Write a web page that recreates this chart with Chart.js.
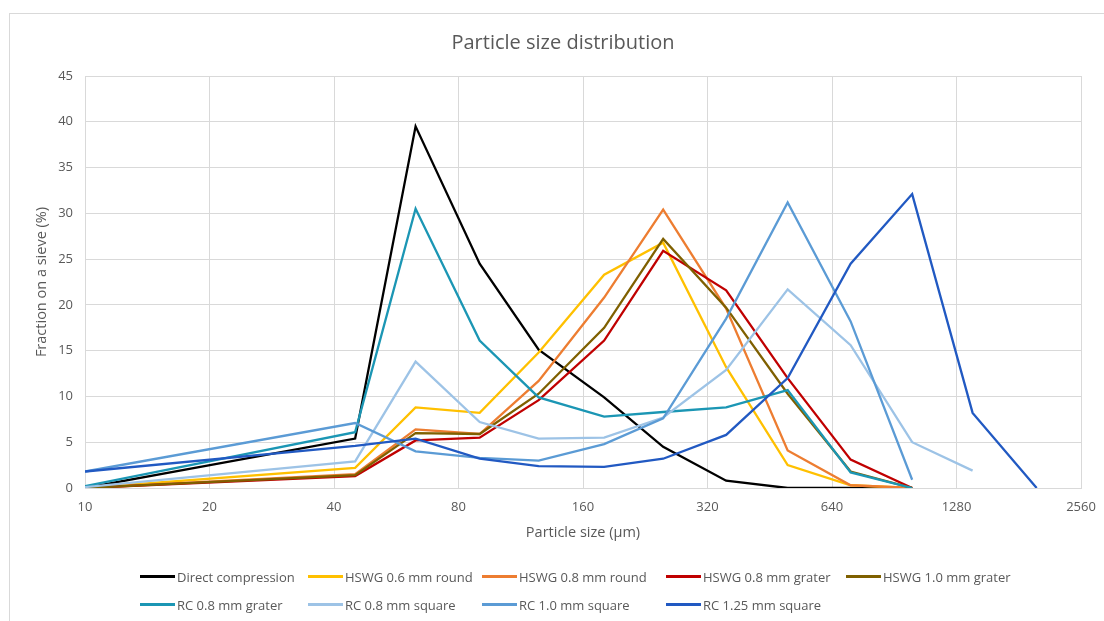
<!DOCTYPE html>
<html>
<head>
<meta charset="utf-8">
<script src="https://cdn.jsdelivr.net/npm/chart.js@4.4.1/dist/chart.umd.min.js"></script>
<style>
  html, body { margin: 0; padding: 0; background: #fff; overflow: hidden; }
  #wrap { position: relative; width: 1104px; height: 621px; }
  #frame { position: absolute; left: 9px; top: 13px; width: 1200px; height: 700px;
           border: 1px solid #d9d9d9; box-sizing: border-box; pointer-events: none; }
  #legend { position: absolute; left: 140px; top: 567px;
            display: grid; grid-template-columns: 168px 174px 184px 180px auto;
            row-gap: 9px; font-family: "Open Sans", sans-serif; font-size: 13px; color: #595959; }
  .item { display: flex; align-items: center; height: 19px; white-space: nowrap; }
  .swatch { width: 35px; height: 2.4px; margin-right: 2px; }
  .row2 { grid-column: 1; }
</style>
</head>
<body>
<div id="wrap">
  <canvas id="chart"></canvas>
  <div id="frame"></div>
  <div id="legend"></div>
</div>
<script>
// Sieve opening sizes (µm) and fraction retained on each sieve (%)
const sieveSizes = [10, 45, 63, 90, 125, 180, 250, 355, 500, 710, 1000, 1400, 2000];
const xTickValues = [10, 20, 40, 80, 160, 320, 640, 1280, 2560];

const directCompression = [0, 5.4, 39.5, 24.5, 15.1, 9.9, 4.5, 0.8, 0, 0, 0, null, null];
const hswg06Round      = [0, 2.2, 8.8, 8.2, 14.8, 23.3, 26.8, 13.2, 2.5, 0.3, 0, null, null];
const hswg08Round      = [0, 1.5, 6.4, 5.9, 11.7, 20.8, 30.4, 19.6, 4.1, 0.3, 0, null, null];
const hswg08Grater     = [0, 1.3, 5.2, 5.5, 9.6, 16.1, 25.9, 21.6, 12.0, 3.1, 0, null, null];
const hswg10Grater     = [0, 1.4, 6.0, 5.9, 10.3, 17.5, 27.2, 19.7, 10.3, 1.8, 0, null, null];
const rc08Grater       = [0.2, 6.1, 30.5, 16.1, 9.9, 7.8, 8.3, 8.8, 10.7, 1.7, 0, null, null];
const rc08Square       = [0.1, 2.9, 13.8, 7.2, 5.4, 5.5, 7.7, 12.9, 21.7, 15.6, 5.0, 1.9, null];
const rc10Square       = [1.8, 7.1, 4.0, 3.3, 3.0, 4.8, 7.6, 18.5, 31.2, 18.2, 0.9, null, null];
const rc125Square      = [1.8, 4.6, 5.4, 3.2, 2.4, 2.3, 3.2, 5.8, 12.0, 24.5, 32.1, 8.2, 0];

const seriesNames = [
  'Direct compression', 'HSWG 0.6 mm round', 'HSWG 0.8 mm round', 'HSWG 0.8 mm grater',
  'HSWG 1.0 mm grater', 'RC 0.8 mm grater', 'RC 0.8 mm square', 'RC 1.0 mm square', 'RC 1.25 mm square'
];
const seriesValues = [
  directCompression, hswg06Round, hswg08Round, hswg08Grater,
  hswg10Grater, rc08Grater, rc08Square, rc10Square, rc125Square
];
const seriesColors = [
  '#000000', '#FFC000', '#ED7D31', '#C00000',
  '#7F6000', '#1B96B4', '#9DC3E6', '#5B9BD5', '#2159C2'
];

const FONT = '"Open Sans", sans-serif';
const GREY = '#595959';
const GRID = '#d9d9d9';

const datasets = seriesNames.map((name, i) => ({
  label: name,
  data: sieveSizes.map((s, k) => ({ x: s, y: seriesValues[i][k] })).filter(p => p.y !== null),
  borderColor: seriesColors[i],
  backgroundColor: seriesColors[i],
  borderWidth: 2.3,
  pointRadius: 0,
  tension: 0,
  order: seriesNames.length - i
}));

const chart = new Chart(document.getElementById('chart'), {
  type: 'line',
  data: { datasets },
  options: {
    responsive: true,
    maintainAspectRatio: false,
    animation: false,
    layout: { padding: { left: 45, right: 23, top: 0, bottom: 74 } },
    plugins: {
      legend: { display: false },
      tooltip: { enabled: false },
      title: {
        display: true,
        text: 'Particle size distribution',
        color: GREY,
        font: { family: FONT, size: 20, weight: 'normal' },
        padding: { top: 31, bottom: 21 }
      }
    },
    scales: {
      x: {
        type: 'logarithmic',
        min: 10,
        max: 2560,
        afterBuildTicks: (scale) => { scale.ticks = xTickValues.map(v => ({ value: v })); },
        afterFit: (scale) => {
          scale.height = 59;
          scale.paddingLeft = 0;
          scale.paddingRight = 0;
        },
        ticks: {
          autoSkip: false, maxRotation: 0, padding: 11,
          color: GREY, font: { family: FONT, size: 13 },
          callback: (v) => String(v)
        },
        grid: { color: GRID, drawTicks: false },
        border: { color: GRID },
        title: {
          display: true, text: 'Particle size (µm)', color: GREY,
          font: { family: FONT, size: 14.5 }, padding: { top: 4, bottom: 5 }
        }
      },
      y: {
        min: 0,
        max: 45,
        afterFit: (scale) => { scale.width = 40; },
        ticks: {
          stepSize: 5, padding: 12,
          color: GREY, font: { family: FONT, size: 13 }
        },
        grid: { color: GRID, drawTicks: false },
        border: { display: false },
        title: {
          display: true, text: 'Fraction on a sieve (%)', color: GREY,
          font: { family: FONT, size: 14.5 }, padding: { top: -12, bottom: 4 }
        }
      }
    }
  }
});

// Legend built from the chart's datasets, five entries on the first row
const legendEl = document.getElementById('legend');
chart.data.datasets.forEach((ds, i) => {
  const item = document.createElement('div');
  item.className = 'item' + (i === 5 ? ' row2' : '');
  const sw = document.createElement('span');
  sw.className = 'swatch';
  sw.style.background = ds.borderColor;
  const txt = document.createElement('span');
  txt.textContent = ds.label;
  item.appendChild(sw);
  item.appendChild(txt);
  legendEl.appendChild(item);
});
</script>
</body>
</html>
